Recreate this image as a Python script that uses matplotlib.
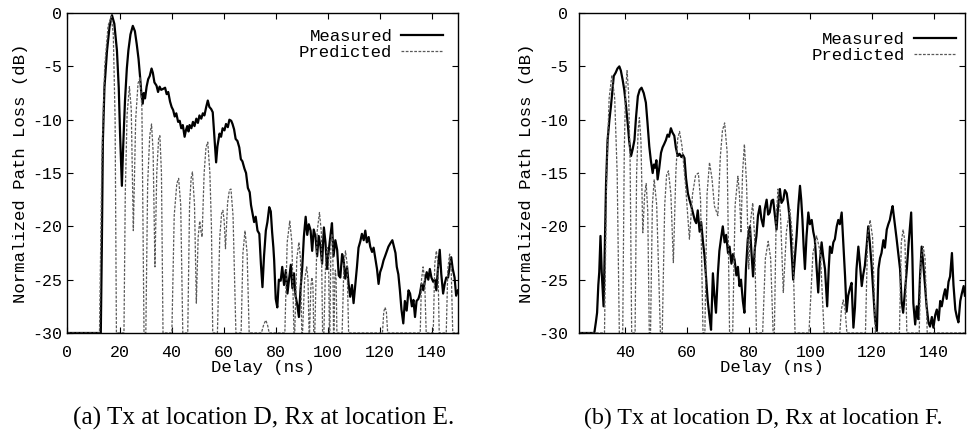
import matplotlib
matplotlib.use("Agg")
import matplotlib.pyplot as plt

# ---- data (delay in ns, level in dB) ----
meas_a = [(0, -30), (12.8, -30), (13.2, -22), (13.6, -12), (14.2, -7), (15.2, -3.5), (16.2, -1.2), (17.1, -0.2),
          (18.0, -1.0), (19.0, -3.5), (19.7, -7), (20.2, -11.3), (20.9, -16.2), (21.4, -12.5), (22.1, -8.2),
          (22.8, -5.2), (23.4, -3.5), (24.2, -2.0), (25.1, -1.2), (25.9, -1.7), (26.6, -2.9), (27.3, -4.3),
          (27.9, -6.0), (28.4, -7.6), (28.9, -8.5), (29.3, -7.5), (29.8, -8.0), (30.4, -6.9), (31.0, -6.2),
          (31.6, -5.9), (32.3, -5.2), (32.8, -5.6), (33.4, -6.5), (34.2, -6.8), (34.8, -7.4), (35.4, -6.9),
          (36.0, -7.2), (36.8, -7.1), (37.5, -7.0), (38.1, -7.6), (38.7, -7.4), (39.4, -8.3), (40.0, -8.8),
          (40.6, -9.1), (41.2, -9.7), (41.8, -9.4), (42.5, -10.2), (43.1, -10.1), (43.7, -10.8), (44.3, -10.5),
          (45.0, -11.6), (45.5, -11.0), (46.0, -10.6), (46.5, -11.1), (46.9, -10.5), (47.6, -10.8), (48.2, -10.2),
          (48.8, -10.6), (49.5, -9.9), (50.1, -10.3), (50.7, -9.6), (51.4, -9.9), (52.0, -9.4), (52.6, -9.6),
          (53.3, -8.8), (53.9, -8.2), (54.5, -8.8), (55.2, -9.0), (55.8, -9.3), (56.4, -11.5), (57.1, -14.0),
          (57.6, -12.5), (58.4, -11.3), (59.0, -11.6), (59.6, -10.8), (60.3, -11.0), (60.9, -10.4), (61.6, -10.7),
          (62.2, -10.0), (62.9, -10.1), (63.4, -10.4), (64.0, -10.9), (64.6, -11.8), (65.3, -12.0), (66.0, -12.6),
          (66.6, -13.7), (67.2, -13.9), (68.0, -14.6), (68.6, -15.0), (69.3, -16.4), (70.0, -16.8), (70.5, -18.0),
          (71.1, -18.8), (71.7, -19.6), (72.3, -19.1), (73.0, -20.4), (73.7, -20.7), (74.3, -23.5), (74.9, -25.7),
          (75.5, -22.8), (76.2, -20.4), (76.8, -19.6), (77.5, -18.2), (78.1, -18.6), (78.6, -20.5), (79.1, -22.0),
          (79.4, -23.2), (80.0, -26.8), (80.6, -27.6), (81.2, -25.0), (81.9, -25.1), (82.5, -23.8), (83.2, -25.5),
          (83.9, -24.1), (84.5, -26.3), (85.1, -25.0), (85.8, -23.6), (86.4, -25.8), (87.0, -24.4), (87.6, -26.5),
          (88.3, -27.4), (88.9, -28.5), (89.5, -26.0), (90.2, -23.8), (90.8, -21.0), (91.5, -19.1), (92.1, -20.8),
          (92.7, -19.8), (93.4, -20.4), (94.0, -22.3), (94.6, -20.3), (95.3, -21.0), (95.9, -22.8), (96.5, -20.9),
          (97.2, -21.9), (97.8, -23.5), (98.5, -20.1), (99.1, -21.5), (99.7, -24.0), (100.4, -22.2), (101.0, -20.9),
          (101.6, -19.7), (102.2, -22.8), (102.9, -21.3), (103.6, -22.2), (104.2, -24.6), (104.8, -24.8),
          (105.5, -22.6), (106.1, -23.2), (106.7, -24.9), (107.4, -23.8), (108.0, -25.4), (108.6, -26.6),
          (109.3, -25.5), (109.9, -27.2), (110.5, -25.6), (111.2, -23.8), (111.8, -22.0), (112.5, -21.4),
          (113.1, -20.7), (113.8, -21.3), (114.4, -20.4), (115.0, -21.5), (115.7, -21.0), (116.3, -21.9),
          (117.0, -22.4), (117.6, -22.0), (118.2, -22.9), (118.9, -24.0), (119.5, -25.4), (120.1, -24.3),
          (120.8, -23.8), (121.4, -23.2), (122.0, -22.8), (122.7, -22.3), (123.3, -21.9), (124.0, -21.6),
          (124.8, -21.3), (125.5, -22.0), (126.0, -22.5), (126.5, -23.8), (127.1, -24.5), (127.7, -26.0),
          (128.3, -27.8), (129.0, -29.1), (129.6, -27.0), (130.3, -27.9), (131.0, -26.0), (131.6, -26.3),
          (132.3, -27.5), (132.9, -26.9), (133.5, -28.5), (134.1, -27.0), (134.8, -26.8), (135.4, -26.3),
          (136.0, -25.4), (136.7, -26.0), (137.3, -25.1), (138.0, -24.3), (138.6, -25.0), (139.2, -24.0),
          (139.8, -24.8), (140.5, -25.2), (141.1, -25.0), (141.7, -26.0), (142.3, -24.0), (143.0, -22.2),
          (143.6, -24.5), (144.3, -26.3), (144.9, -25.4), (145.5, -24.8), (146.2, -24.8), (146.8, -23.8),
          (147.4, -22.9), (148.0, -24.0), (148.7, -24.8), (149.3, -26.5), (150.0, -26.0)]

pred_a = [(0, -30), (12.3, -30), (13.2, -14), (14.3, -5), (15.6, -1.2), (16.8, -0.3), (17.6, -2), (18.3, -10), (18.8, -30),
          (21.7, -30), (22.2, -17), (22.9, -9.5), (23.8, -6.9), (24.5, -9), (25.3, -20.4), (26.2, -10), (27.1, -6.6),
          (27.9, -6.0), (28.6, -9), (29.4, -30),
          (30.1, -30), (30.8, -16), (31.6, -11.5), (32.3, -10.4), (32.9, -13), (33.6, -23.8), (34.3, -15),
          (35.0, -11.8), (35.5, -11.5), (36.1, -15), (36.7, -30),
          (40.1, -30), (41.0, -19), (42.0, -16), (42.7, -15.5), (43.5, -18), (44.3, -30),
          (46.2, -30), (46.9, -18), (47.5, -15.5), (48.0, -14.9), (48.8, -18), (49.5, -27.2), (50.2, -21),
          (50.8, -19.5), (51.3, -20.5), (51.7, -21.0), (52.5, -15), (53.2, -12.6), (53.9, -12.1), (54.7, -15),
          (55.3, -20), (55.8, -30),
          (57.6, -30), (58.5, -21), (59.2, -18.8), (59.7, -18.5), (60.2, -19.5), (60.7, -22.1), (61.5, -17.8),
          (62.2, -16.6), (62.8, -16.5), (63.6, -19), (64.7, -30),
          (66.7, -30), (67.4, -22.5), (68.2, -20.4), (69.0, -22.5), (69.8, -30),
          (74.5, -30), (75.4, -29.2), (76.2, -28.8), (76.9, -29.3), (77.5, -30),
          (83.5, -30), (84.4, -21.5), (85.4, -19.5), (86.2, -21.5), (87.0, -30),
          (87.3, -30), (88.1, -23), (88.9, -21.5), (89.5, -23), (90.0, -30),
          (90.3, -30), (91.1, -25), (91.9, -23.8), (92.4, -25), (92.8, -30),
          (93.0, -30), (93.5, -25.6), (93.9, -24.8), (94.3, -25.6), (94.6, -30),
          (95.0, -30), (95.9, -20.5), (96.8, -18.7), (97.5, -20.5), (98.0, -30),
          (98.5, -30), (99.2, -23), (99.8, -22), (100.3, -23), (100.6, -30),
          (100.8, -30), (101.2, -21.5), (101.5, -20.7), (101.9, -21.5), (102.2, -30),
          (102.4, -30), (102.7, -25), (102.9, -24.1), (103.2, -25), (103.5, -30),
          (105.5, -30), (106.2, -23.5), (106.8, -22.3), (107.4, -23.5), (108.0, -30),
          (121.0, -30), (121.5, -28), (122.0, -27.6), (122.5, -28), (123.0, -30),
          (135.5, -30), (136.0, -25), (136.6, -23.8), (137.2, -25), (137.8, -30),
          (140.5, -30), (141.1, -23.5), (141.7, -22.3), (142.3, -23.5), (142.8, -30),
          (145.5, -30), (146.1, -24), (146.8, -22.6), (147.4, -24), (148.0, -30),
          (150, -30)]

meas_b = [(25, -30), (30.0, -30), (30.5, -29), (30.9, -28.1), (31.3, -25.5), (31.6, -24.3), (32.0, -20.9), (32.4, -24.3),
          (33.0, -27.5), (33.4, -22), (33.8, -16), (34.3, -11.9), (34.9, -10), (35.4, -8.7), (35.9, -7.2), (36.3, -5.9),
          (36.9, -5.6), (37.5, -5.2), (38.1, -5.0), (38.6, -5.4), (39.2, -6.3), (39.7, -7.2), (40.2, -8.5),
          (40.8, -10.3), (41.3, -12.0), (41.9, -13.4), (42.4, -12.8), (43.0, -11.9), (43.5, -9.8), (44.1, -7.8),
          (44.7, -7.2), (45.3, -7.0), (46.0, -7.5), (46.7, -8.4), (47.2, -10.2), (47.8, -12.5), (48.3, -13.8),
          (48.9, -15.0), (49.3, -14.2), (49.7, -14.5), (50.1, -13.8), (50.5, -15.6), (51.0, -14.6), (51.6, -13.1),
          (52.1, -12.6), (52.6, -12.3), (53.2, -11.9), (53.7, -11.4), (54.2, -11.6), (54.8, -10.8), (55.3, -11.2),
          (55.9, -11.5), (56.4, -12.6), (57.0, -13.4), (57.6, -13.2), (58.2, -13.5), (58.7, -13.3), (59.2, -13.6),
          (59.7, -15.5), (60.3, -16.9), (60.8, -17.5), (61.4, -18.1), (61.9, -18.7), (62.5, -19.4), (63.0, -19.7),
          (63.5, -18.5), (64.1, -20.5), (64.6, -19.6), (65.2, -21.5), (65.7, -22.8), (66.2, -24.8), (66.7, -26.9),
          (67.3, -28.5), (67.8, -29.7), (68.4, -24.4), (68.9, -26.5), (69.4, -28.1), (70.0, -24.5), (70.5, -22.3),
          (71.1, -21.0), (71.6, -20.0), (72.2, -21.5), (72.7, -20.8), (73.3, -22.5), (73.8, -21.9), (74.4, -23.5),
          (74.9, -22.6), (75.4, -23.1), (76.0, -24.6), (76.5, -23.8), (77.0, -25.6), (77.5, -25.0), (78.1, -27.0),
          (78.6, -28.1), (79.1, -24.0), (79.7, -21.2), (80.1, -20.4), (80.4, -20.0), (80.9, -22.5), (81.4, -24.7),
          (82.0, -22.0), (82.5, -20.9), (83.0, -19.0), (83.6, -18.1), (84.1, -19.3), (84.7, -20.0), (85.2, -18.4),
          (85.8, -17.5), (86.3, -18.9), (86.8, -18.7), (87.4, -17.6), (87.9, -17.5), (88.5, -19.0), (89.0, -20.3),
          (89.5, -18.2), (90.1, -16.5), (90.6, -17.8), (91.2, -17.5), (91.7, -16.6), (92.3, -16.9), (92.8, -18.0),
          (93.3, -19.4), (93.9, -22.5), (94.4, -25.0), (95.0, -22.8), (95.5, -20.9), (96.1, -18.0), (96.6, -16.2),
          (97.0, -17.5), (97.4, -19.4), (97.8, -22.0), (98.2, -24.0), (98.7, -21.0), (99.3, -18.7), (99.8, -19.8),
          (100.4, -19.4), (100.9, -20.5), (101.4, -21.2), (102.0, -24.0), (102.5, -26.2), (103.0, -23.5),
          (103.6, -21.5), (104.1, -22.8), (104.7, -24.0), (105.1, -26.0), (105.4, -27.5), (105.9, -24.0),
          (106.3, -21.9), (106.9, -22.5), (107.4, -21.5), (107.9, -21.2), (108.5, -20.0), (109.0, -19.4),
          (109.5, -19.8), (110.1, -18.7), (110.6, -21.5), (111.2, -24.7), (111.7, -28.0), (112.2, -26.5),
          (112.8, -25.8), (113.3, -25.3), (113.9, -29.5), (114.4, -27.6), (114.9, -24.0), (115.5, -21.9),
          (116.0, -23.5), (116.6, -25.6), (117.1, -24.5), (117.6, -23.7), (118.2, -21.8), (118.7, -20.0),
          (119.2, -21.5), (119.8, -23.7), (120.3, -26.0), (120.9, -28.7), (121.5, -29.8), (122.0, -24.0),
          (122.5, -23.0), (123.0, -22.5), (123.6, -21.3), (124.1, -22.0), (124.7, -20.3), (125.2, -19.8),
          (125.7, -19.4), (126.2, -18.6), (126.6, -18.1), (127.2, -19.5), (127.9, -21.2), (128.4, -22.5),
          (129.0, -24.0), (129.5, -27.0), (130.0, -28.1), (130.6, -26.0), (131.2, -24.0), (131.8, -21.5),
          (132.3, -19.8), (132.6, -18.7), (133.0, -23.0), (133.3, -27.2), (133.9, -29.2), (134.4, -27.5),
          (134.9, -28.7), (135.5, -24.5), (136.0, -21.9), (136.5, -23.5), (137.1, -25.6), (137.6, -27.5),
          (138.2, -29.0), (138.7, -29.4), (139.3, -28.5), (139.8, -29.5), (140.4, -28.3), (140.9, -27.8),
          (141.5, -28.8), (142.0, -27.0), (142.5, -27.5), (143.1, -26.5), (143.6, -25.9), (144.1, -26.8),
          (144.7, -25.2), (145.2, -24.7), (145.8, -22.5), (146.3, -25.5), (146.9, -27.8), (147.4, -28.5),
          (147.9, -29.0), (148.5, -27.0), (149.0, -26.3), (149.6, -25.6), (150, -26.5)]

pred_b = [(25, -30), (33.3, -30), (34.0, -15), (34.8, -8), (35.7, -5.8), (36.6, -8), (37.4, -15), (38.1, -30),
          (39.2, -30), (39.7, -13), (40.1, -7.5), (40.6, -5.4), (41.1, -7.5), (41.6, -14), (42.1, -30),
          (43.2, -30), (43.7, -15), (44.2, -11), (44.6, -9.8), (45.1, -12), (45.7, -20.6), (46.3, -17), (46.8, -16),
          (47.3, -18.5), (47.8, -30),
          (48.2, -30), (48.8, -18), (49.4, -15.6), (50.2, -18), (51.4, -30),
          (52.0, -30), (52.8, -18), (53.4, -15.2), (54.0, -14.8), (54.8, -17), (55.6, -23.4), (56.4, -15),
          (57.0, -11.8), (57.6, -11.1), (58.4, -12.5), (59.5, -16), (60.8, -21.2), (61.8, -17), (62.8, -15.2),
          (63.7, -15.0), (64.4, -17.5), (65.2, -30),
          (65.8, -30), (66.5, -17), (67.3, -14.0), (68.1, -15.5), (68.9, -18.1), (70.0, -19.0), (70.8, -13.5),
          (71.5, -11), (72.2, -10.3), (73.0, -13), (73.8, -30),
          (74.8, -30), (75.6, -18), (76.5, -15.3), (77.0, -17), (77.5, -20.6), (78.0, -15), (78.6, -12.3),
          (79.3, -16), (80.0, -24), (80.6, -19.5), (81.3, -17.8), (81.9, -21), (82.5, -30),
          (84.5, -30), (85.4, -23), (86.3, -21.4), (87.1, -23), (87.9, -30),
          (88.3, -30), (88.9, -19), (89.5, -16.5), (90.3, -19), (91.2, -26.2), (92.2, -20.5), (93.3, -18.4),
          (94.2, -21), (95.0, -30),
          (99.5, -30), (100.8, -22.5), (102.0, -20.9), (103.2, -22.5), (104.4, -30),
          (109.5, -30), (110.0, -27.8), (110.6, -26.9), (111.2, -27.8), (111.8, -30),
          (117.8, -30), (118.5, -21), (119.3, -19.4), (120.1, -21), (121.0, -30),
          (128.8, -30), (129.4, -21.5), (130.0, -20.3), (130.6, -21.5), (131.2, -30),
          (135.2, -30), (135.8, -23), (136.5, -21.9), (137.1, -23), (137.8, -30),
          (150, -30)]

y_ticks = [0, -5, -10, -15, -20, -25, -30]
y_labels = ['0', '-5', '-10', '-15', '-20', '-25', '-30']
x_ticks_a = [0, 20, 40, 60, 80, 100, 120, 140]
x_ticks_b = [40, 60, 80, 100, 120, 140]
captions = ['(a) Tx at location D, Rx at location E.',
            '(b) Tx at location D, Rx at location F.']

mono = 'Liberation Mono'
serif = 'Liberation Serif'

fig = plt.figure(figsize=(9.68, 4.30), dpi=100)
ax_a = fig.add_axes([0.0697, 0.2256, 0.4034, 0.744])
ax_b = fig.add_axes([0.598, 0.2256, 0.3988, 0.744])


def draw(ax, meas, pred, xlim, xticks, ypad, anchor):
    ax.plot([p[0] for p in meas], [p[1] for p in meas], color='black', lw=1.6, label='Measured')
    ax.plot([p[0] for p in pred], [p[1] for p in pred], color='0.35', lw=0.9,
            linestyle=(0, (2.2, 1.2)), label='Predicted')
    ax.set_xlim(*xlim)
    ax.set_ylim(-30, 0)
    ax.set_xticks(xticks)
    ax.set_xticklabels([str(t) for t in xticks], family=mono, fontsize=12)
    ax.set_yticks(y_ticks)
    ax.set_yticklabels(y_labels, family=mono, fontsize=12)
    ax.tick_params(direction='in', top=True, right=True, length=4, width=0.8)
    ax.tick_params(axis='x', pad=9)
    ax.tick_params(axis='y', pad=ypad)
    for s in ax.spines.values():
        s.set_linewidth(1.0)
    ax.set_xlabel('Delay (ns)', family=mono, fontsize=12.5, labelpad=0)
    ax.set_ylabel('Normalized Path Loss (dB)', family=mono, fontsize=12.5, labelpad=3)
    ax.legend(loc='upper right', bbox_to_anchor=anchor, frameon=False, markerfirst=False,
              prop={'family': mono, 'size': 12.5}, handlelength=2.4, handletextpad=0.5,
              labelspacing=0.05, borderaxespad=0)


draw(ax_a, meas_a, pred_a, (0, 150), x_ticks_a, 4, (0.979, 0.971))
draw(ax_b, meas_b, pred_b, (25, 150), x_ticks_b, 8, (0.994, 0.962))

fig.text(264 / 968, 1 - 418 / 430, captions[0], family=serif, fontsize=18.2, ha='center', va='center')
fig.text(763 / 968, 1 - 418 / 430, captions[1], family=serif, fontsize=17.2, ha='center', va='center')

fig.savefig('out.png', dpi=100)
